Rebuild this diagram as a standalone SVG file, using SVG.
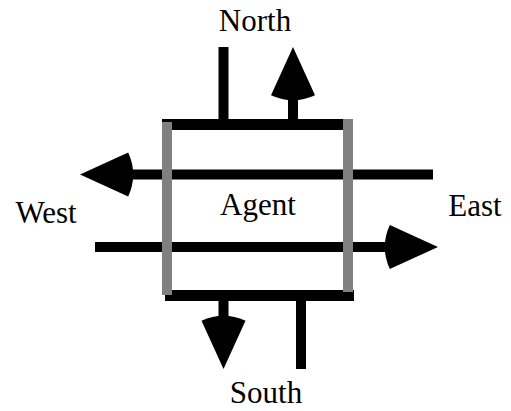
<svg xmlns="http://www.w3.org/2000/svg" xmlns:xlink="http://www.w3.org/1999/xlink" width="511" height="411" viewBox="0 0 511 411">
  <style>
    .bar { stroke: #000; stroke-width: 11; fill: none; }
    .side { stroke: #808080; stroke-width: 10; fill: none; }
    .line { stroke: #000; stroke-width: 10; fill: none; }
    .head { fill: #000; stroke: none; }
    .lbl { font-family: "Liberation Serif", "Times New Roman", serif; font-size: 31px; fill: #000; text-anchor: middle; }
  </style>
  <defs>
    <path id="ah" class="head" d="M0,0 L-48.2,-22 A53,53 0 0 0 -48.2,22 Z"/>
  </defs>
  <rect width="511" height="411" fill="#fff"/>
  <g id="connectors">
    <line class="line" x1="223.5" y1="47" x2="223.5" y2="122"/>
    <line class="line" x1="293" y1="122" x2="293" y2="92"/>
    <use xlink:href="#ah" href="#ah" transform="translate(293,47) rotate(-90)"/>
    <line class="line" x1="433" y1="174.5" x2="125" y2="174.5"/>
    <use xlink:href="#ah" href="#ah" transform="translate(80,174.5) rotate(180)"/>
    <line class="line" x1="95" y1="247" x2="393" y2="247"/>
    <use xlink:href="#ah" href="#ah" transform="translate(438,247)"/>
    <line class="line" x1="223.5" y1="293" x2="223.5" y2="324"/>
    <use xlink:href="#ah" href="#ah" transform="translate(223.5,369) rotate(90)"/>
    <line class="line" x1="301" y1="293" x2="301" y2="369"/>
  </g>
  <g id="agent">
    <line class="bar" x1="162" y1="124.5" x2="348" y2="124.5"/>
    <line class="bar" x1="165" y1="295.5" x2="354" y2="295.5"/>
    <line class="side" x1="167" y1="122" x2="167" y2="295"/>
    <line class="side" x1="348" y1="119" x2="348" y2="292"/>
    <text class="lbl" x="258" y="215">Agent</text>
  </g>
  <g id="north"><text class="lbl" x="255" y="31">North</text></g>
  <g id="south"><text class="lbl" x="266" y="403">South</text></g>
  <g id="west"><text class="lbl" x="46" y="223">West</text></g>
  <g id="east"><text class="lbl" x="475" y="216">East</text></g>
</svg>
